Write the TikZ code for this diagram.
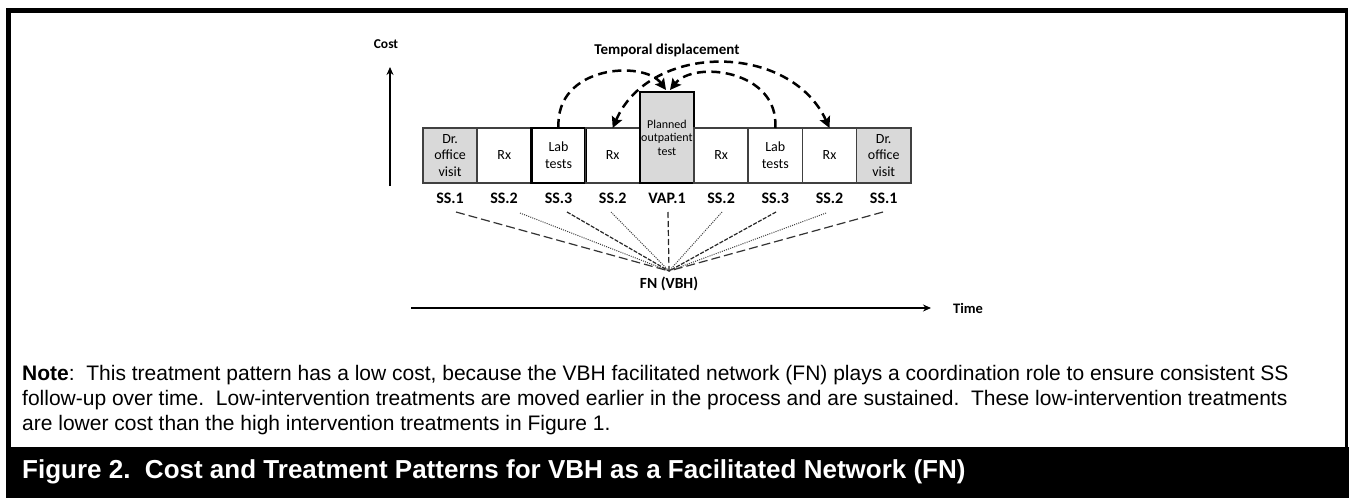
\documentclass[tikz,border=0pt]{standalone}
\usepackage{fontspec}
\setmainfont{Carlito}
\newfontfamily\arialfont{Liberation Sans}
\usetikzlibrary{arrows.meta}
\begin{document}
\frenchspacing
\begin{tikzpicture}[x=1pt,y=-1pt,
  box/.style={draw=black!75, line width=1.6pt, minimum width=54.2pt, minimum height=55pt, inner sep=0pt, outer sep=0pt, align=center, anchor=north west, font=\fontsize{14}{16.5}\selectfont},
  grayfill/.style={fill=black!15},
  thickbox/.style={draw=black, line width=2.6pt},
  lab/.style={font=\bfseries\fontsize{16}{19}\selectfont, inner sep=0pt},
  arcline/.style={line width=2.5pt, dash pattern=on 9pt off 5.5pt},
  tip/.style={-{Stealth[length=11pt,width=11pt,inset=2pt]}},
  axis/.style={line width=1.2pt, -{Stealth[length=8pt,width=7pt]}},
  fanlong/.style={line width=1.2pt, black!80, dash pattern=on 9pt off 4pt},
  fandot/.style={line width=1pt, black!75, dash pattern=on 1pt off 1.2pt},
  fanmid/.style={line width=1.2pt, black!85, dash pattern=on 4pt off 1.5pt},
  fanvap/.style={line width=1.2pt, black!85, dash pattern=on 6pt off 3pt},
  notetext/.style={anchor=base west, inner sep=0pt, font=\arialfont\fontsize{21}{25}\selectfont},
]
\useasboundingbox (0,0) rectangle (1349,498);
\fill[white] (0,0) rectangle (1349,498);
% frame
\fill[black] (6,8) rectangle (1348,13);
\fill[black] (6,8) rectangle (11,498);
\fill[black] (1345,8) rectangle (1348,447);
\fill[black] (6,447) rectangle (1349,498);

% axis labels
\node[lab, font=\bfseries\fontsize{13.5}{16}\selectfont] (cost) at (386,44) {Cost};
\node[lab, font=\bfseries\fontsize{15}{18}\selectfont] (temporal) at (667,50) {Temporal displacement};
\coordinate (cbot) at (390,186);
\coordinate (ctop) at (390,67);
\draw[axis] (cbot) -- (ctop);

% boxes
\node[box, grayfill] (b1) at (423,128) {Dr.\\office\\visit};
\node[box] (b2) at (477.2,128) {Rx};
\node[box, thickbox, font=\fontsize{14}{17}\selectfont] (b3) at (531.4,128) {Lab\\tests};
\node[box] (b4) at (585.6,128) {Rx};
\node[box, grayfill, thickbox, minimum height=91pt, font=\fontsize{12}{13.5}\selectfont] (b5) at (639.8,92) {Planned\\outpatient\\test};
\node[box] (b6) at (694,128) {Rx};
\node[box, font=\fontsize{14}{17}\selectfont] (b7) at (748.2,128) {Lab\\tests};
\node[box] (b8) at (802.4,128) {Rx};
\node[box, grayfill] (b9) at (856.6,128) {Dr.\\office\\visit};

% arcs
\coordinate (vtl) at (666,90);
\coordinate (vtr) at (670,90);
\draw[arcline, tip] (b3.north) .. controls +(-3.5,-63) and +(-22,-30) .. (vtl);
\draw[arcline, tip] (b7.north) .. controls +(4,-58) and +(24,-30) .. (vtr);
\draw[arcline, {Stealth[length=11pt,width=11pt,inset=2pt]}-{Stealth[length=11pt,width=11pt,inset=2pt]}] (b4.north) .. controls +(37,-86) and +(-39.5,-86) .. (b8.north);

% labels
\node[lab] (l1) at (450,198) {SS.1};
\node[lab] (l2) at (504,198) {SS.2};
\node[lab] (l3) at (558.5,198) {SS.3};
\node[lab] (l4) at (612.7,198) {SS.2};
\node[lab] (l5) at (667,198) {VAP.1};
\node[lab] (l6) at (721.1,198) {SS.2};
\node[lab] (l7) at (775.3,198) {SS.3};
\node[lab] (l8) at (829.5,198) {SS.2};
\node[lab] (l9) at (883.7,198) {SS.1};

% fan
\coordinate (fn) at (669,271);
\coordinate (s1) at (456,212);
\coordinate (s2) at (520,213);
\coordinate (s3) at (567,212);
\coordinate (s4) at (611,212);
\coordinate (s5) at (668,212);
\coordinate (s6) at (722,212);
\coordinate (s7) at (776,212);
\coordinate (s8) at (826,213);
\coordinate (s9) at (883,212);
\draw[fanlong] (s1) -- (fn);
\draw[fandot] (s2) -- (fn);
\draw[fanmid] (s3) -- (fn);
\draw[fandot] (s4) -- (fn);
\draw[fanvap] (s5) -- (fn);
\draw[fandot] (s6) -- (fn);
\draw[fanmid] (s7) -- (fn);
\draw[fandot] (s8) -- (fn);
\draw[fanlong] (s9) -- (fn);
\node[lab, font=\bfseries\fontsize{15.5}{18}\selectfont] (fnlab) at (669,284) {FN (VBH)};

% time axis
\coordinate (tstart) at (411,308);
\coordinate (tend) at (931,308);
\draw[axis] (tstart) -- (tend);
\node[lab, anchor=west, font=\bfseries\fontsize{14.5}{17}\selectfont] (time) at (953,308) {Time};

% note
\node[notetext] (n1) at (22,380) {\textbf{Note}:\ \ This treatment pattern has a low cost, because the VBH facilitated network (FN) plays a coordination role to ensure consistent SS};
\node[notetext] (n2) at (22,405) {follow-up over time.\ \ Low-intervention treatments are moved earlier in the process and are sustained.\ \ These low-intervention treatments};
\node[notetext] (n3) at (22,430) {are lower cost than the high intervention treatments in Figure 1.};

% title
\node[anchor=west, inner sep=0pt, text=white, font=\arialfont\bfseries\fontsize{26}{30}\selectfont] (title) at (22,472) {Figure 2.\ \ Cost and Treatment Patterns for VBH as a Facilitated Network (FN)};
\end{tikzpicture}
\end{document}
